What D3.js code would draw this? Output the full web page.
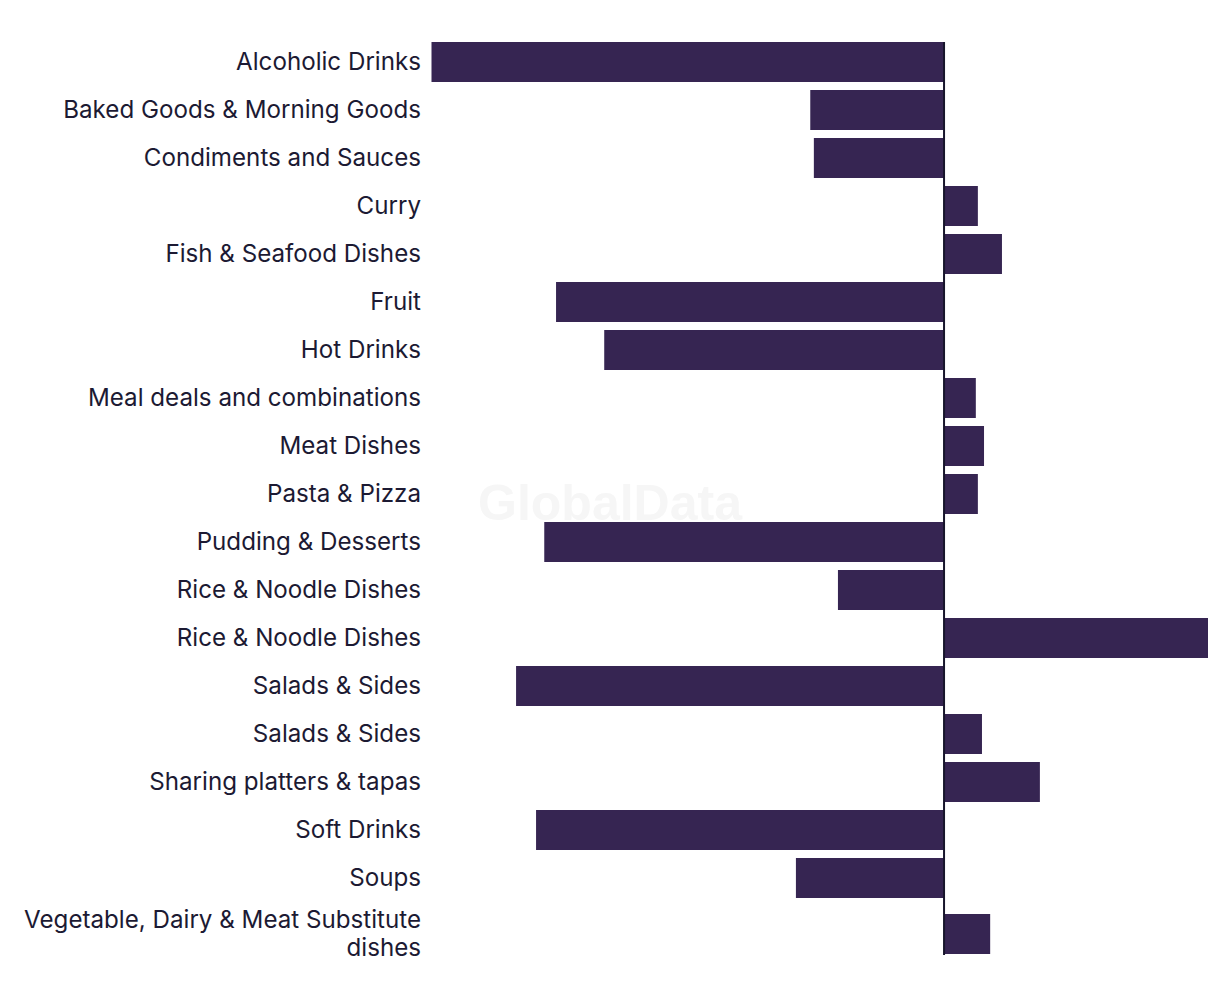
<!DOCTYPE html>
<html>
<head>
<meta charset="utf-8">
<script src="https://cdn.jsdelivr.net/npm/d3@7"></script>
<style>
  html, body { margin: 0; padding: 0; background: #ffffff; }
  svg { display: block; }
</style>
</head>
<body>
<svg id="chart" width="1220" height="1006"></svg>
<script>
// ---- data ----
const categories = [
  "Alcoholic Drinks",
  "Baked Goods & Morning Goods",
  "Condiments and Sauces",
  "Curry",
  "Fish & Seafood Dishes",
  "Fruit",
  "Hot Drinks",
  "Meal deals and combinations",
  "Meat Dishes",
  "Pasta & Pizza",
  "Pudding & Desserts",
  "Rice & Noodle Dishes",
  "Rice & Noodle Dishes",
  "Salads & Sides",
  "Salads & Sides",
  "Sharing platters & tapas",
  "Soft Drinks",
  "Soups",
  "Vegetable, Dairy & Meat Substitute dishes"
];
const labelLines = [
  ["Alcoholic Drinks"],
  ["Baked Goods & Morning Goods"],
  ["Condiments and Sauces"],
  ["Curry"],
  ["Fish & Seafood Dishes"],
  ["Fruit"],
  ["Hot Drinks"],
  ["Meal deals and combinations"],
  ["Meat Dishes"],
  ["Pasta & Pizza"],
  ["Pudding & Desserts"],
  ["Rice & Noodle Dishes"],
  ["Rice & Noodle Dishes"],
  ["Salads & Sides"],
  ["Salads & Sides"],
  ["Sharing platters & tapas"],
  ["Soft Drinks"],
  ["Soups"],
  ["Vegetable, Dairy & Meat Substitute", "dishes"]
];
const values = [
  -100, -26.1, -25.4, 6.6, 11.3, -75.7, -66.3, 6.2, 7.8, 6.6,
  -78.0, -20.7, 51.5, -83.5, 7.4, 18.7, -79.6, -28.9, 9.0
];
const xDomain = [-100, 51.5];

// ---- layout ----
const svg = d3.select("#chart");
const barColor = "#362552";
const textColor = "#1c1a33";

const x = d3.scaleLinear().domain(xDomain).range([431.5, 1208]);

// rows: one unit per label line beyond the first adds extra height
const rowUnits = labelLines.map(l => 1 + (l.length - 1) / 3);
const cum = [0];
rowUnits.forEach(u => cum.push(cum[cum.length - 1] + u));
const y = d3.scaleLinear().domain([0, cum[cum.length - 1]]).range([38, 38 + 48 * cum[cum.length - 1]]);
const unitPx = y(1) - y(0);
const barH = unitPx * 40 / 48;

const rows = categories.map((c, i) => ({
  name: c, lines: labelLines[i], value: values[i],
  center: (y(cum[i]) + y(cum[i + 1])) / 2
}));

// watermark
svg.append("text")
  .attr("x", 610).attr("y", 520)
  .attr("text-anchor", "middle")
  .attr("font-family", "Liberation Sans, Arial, sans-serif")
  .attr("font-weight", "bold")
  .attr("font-size", 50)
  .attr("fill", "#f6f6f6")
  .text("GlobalData");

// bars
svg.append("g").selectAll("rect")
  .data(rows)
  .join("rect")
  .attr("x", d => Math.min(x(0), x(d.value)))
  .attr("width", d => Math.abs(x(d.value) - x(0)))
  .attr("y", d => d.center - barH / 2)
  .attr("height", barH)
  .attr("fill", barColor);

// zero line
svg.append("line")
  .attr("x1", x(0)).attr("x2", x(0))
  .attr("y1", rows[0].center - barH / 2)
  .attr("y2", rows[rows.length - 1].center + barH / 2 + 1)
  .attr("stroke", "#17152b")
  .attr("stroke-width", 2);

// labels
const fontFamily = "Inter, 'Noto Sans', sans-serif";
const lineH = 28;
const lab = svg.append("g")
  .attr("font-family", fontFamily)
  .attr("fill", textColor);

// fit font size to the longest single-line label width
const probe = lab.append("text").attr("font-size", 100).text("Baked Goods & Morning Goods");
const fs = 358 / probe.node().getComputedTextLength() * 100;
probe.remove();
lab.attr("font-size", fs);

rows.forEach(d => {
  const t = lab.append("text")
    .attr("x", 421)
    .attr("text-anchor", "end");
  const n = d.lines.length;
  d.lines.forEach((ln, k) => {
    t.append("tspan")
      .attr("x", 421)
      .attr("y", d.center + (k - (n - 1) / 2) * lineH)
      .attr("dy", "0.35em")
      .text(ln);
  });
});
</script>
</body>
</html>
